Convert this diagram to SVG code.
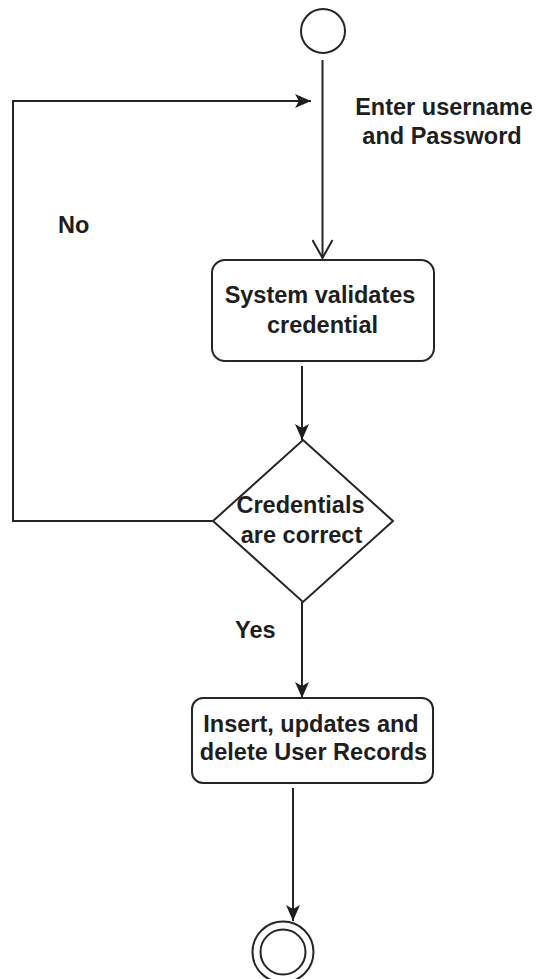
<svg xmlns="http://www.w3.org/2000/svg" width="536" height="979" viewBox="0 0 536 979">
  <style>
    .shape { fill: #ffffff; stroke: #262626; stroke-width: 2; }
    .edge { fill: none; stroke: #262626; stroke-width: 2; }
    .label { font-family: "Liberation Sans", Arial, sans-serif; font-size: 23.5px; font-weight: bold; fill: #1e1e1e; }
    .mid { text-anchor: middle; }
  </style>
  <defs>
    <marker id="solid" viewBox="0 0 16 14" refX="16" refY="7" markerWidth="16" markerHeight="14" markerUnits="userSpaceOnUse" orient="auto">
      <path d="M0,0 L16,7 L0,14 L4,7 Z" fill="#1e1e1e"/>
    </marker>
    <marker id="open" viewBox="0 0 20 22" refX="19" refY="11" markerWidth="20" markerHeight="22" markerUnits="userSpaceOnUse" orient="auto">
      <path d="M1,1 L19,11 L1,21" fill="none" stroke="#262626" stroke-width="2"/>
    </marker>
  </defs>
  <rect width="536" height="979" fill="#ffffff"/>

  <!-- connectors -->
  <g id="edges">
    <line class="edge" x1="322.5" y1="60" x2="322.5" y2="258" marker-end="url(#open)"/>
    <line class="edge" x1="302" y1="366" x2="302" y2="440" marker-end="url(#solid)"/>
    <polyline class="edge" points="213,521 13,521 13,101 311,101" marker-end="url(#solid)"/>
    <line class="edge" x1="302" y1="602" x2="302" y2="698" marker-end="url(#solid)"/>
    <line class="edge" x1="293" y1="788" x2="293" y2="921" marker-end="url(#solid)"/>
  </g>

  <!-- edge labels -->
  <g id="edge-labels">
    <text class="label mid" x="444" y="115">Enter username</text>
    <text class="label mid" x="442" y="144">and Password</text>
    <text class="label" x="58" y="233">No</text>
    <text class="label" x="235" y="638">Yes</text>
  </g>

  <!-- initial node -->
  <g id="start">
    <circle class="shape" cx="323" cy="31" r="22"/>
  </g>

  <!-- validation action -->
  <g id="validate">
    <rect class="shape" x="212" y="260" width="222" height="101" rx="13" ry="13"/>
    <text class="label mid" x="320" y="303">System validates</text>
    <text class="label mid" x="322.5" y="333">credential</text>
  </g>

  <!-- decision -->
  <g id="decision">
    <polygon class="shape" points="303,440 393,521 303,602 213,521"/>
    <text class="label mid" x="300.5" y="513">Credentials</text>
    <text class="label mid" x="301.5" y="543">are correct</text>
  </g>

  <!-- record management action -->
  <g id="records">
    <rect class="shape" x="192" y="698" width="241" height="85" rx="11" ry="11"/>
    <text class="label mid" x="311" y="732">Insert, updates and</text>
    <text class="label mid" x="313.5" y="760">delete User Records</text>
  </g>

  <!-- final node -->
  <g id="end">
    <circle class="shape" cx="283" cy="952" r="30.5"/>
    <circle class="shape" cx="283" cy="952" r="22.5"/>
  </g>
</svg>
